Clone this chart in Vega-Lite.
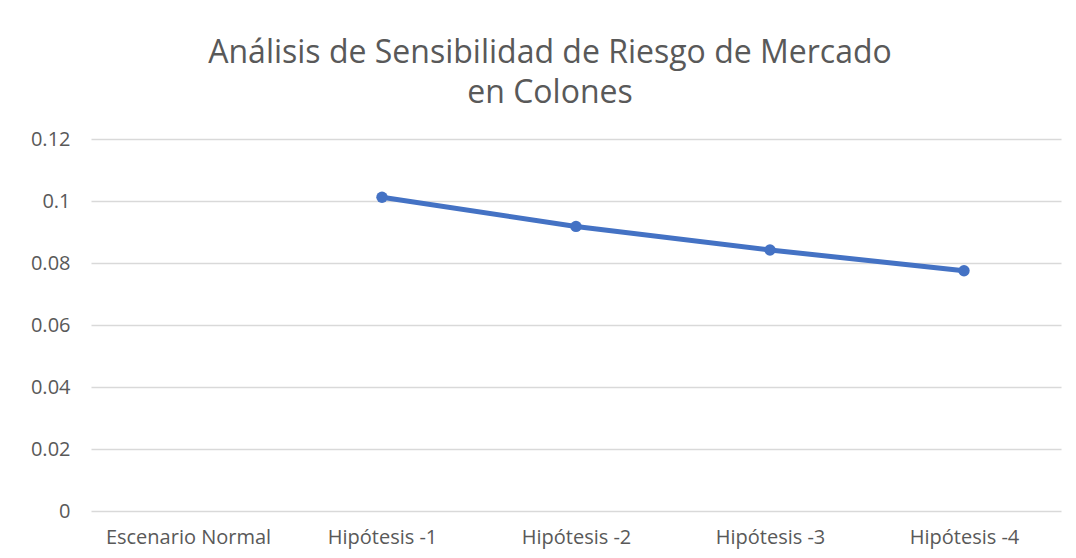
{
  "$schema": "https://vega.github.io/schema/vega-lite/v6.json",
  "width": 970,
  "height": 372,
  "autosize": {"type": "none"},
  "padding": {"left": 91, "top": 139, "right": 15, "bottom": 47},
  "background": "white",
  "title": {
    "text": ["Análisis de Sensibilidad de Riesgo de Mercado", "en Colones"],
    "font": "Open Sans",
    "fontSize": 32,
    "fontWeight": 400,
    "color": "#595959",
    "lineHeight": 40,
    "anchor": "middle",
    "dx": -26,
    "offset": 19
  },
  "data": {
    "values": [
      {"escenario": "Escenario Normal", "valor": null},
      {"escenario": "Hipótesis -1", "valor": 0.1012},
      {"escenario": "Hipótesis -2", "valor": 0.0918},
      {"escenario": "Hipótesis -3", "valor": 0.0842},
      {"escenario": "Hipótesis -4", "valor": 0.0775}
    ]
  },
  "mark": {"type": "line", "color": "#4472C4", "strokeWidth": 5, "point": {"filled": true, "size": 130, "color": "#4472C4"}},
  "encoding": {
    "x": {
      "field": "escenario",
      "type": "nominal",
      "sort": null,
      "scale": {"domain": ["Escenario Normal", "Hipótesis -1", "Hipótesis -2", "Hipótesis -3", "Hipótesis -4"], "paddingInner": 0, "paddingOuter": 0.5},
      "axis": {"title": null, "labelAngle": 0, "domain": false, "ticks": false, "grid": false, "labelFont": "Open Sans", "labelFontSize": 20, "labelColor": "#595959", "labelPadding": 16}
    },
    "y": {
      "field": "valor",
      "type": "quantitative",
      "scale": {"domain": [0, 0.12], "nice": false},
      "axis": {"title": null, "values": [0, 0.02, 0.04, 0.06, 0.08, 0.1, 0.12], "format": ".2~f", "domain": false, "ticks": false, "gridColor": "#d9d9d9", "gridWidth": 1.3, "labelFont": "Open Sans", "labelFontSize": 20, "labelColor": "#595959", "labelPadding": 21}
    }
  },
  "config": {"view": {"stroke": null}}
}
